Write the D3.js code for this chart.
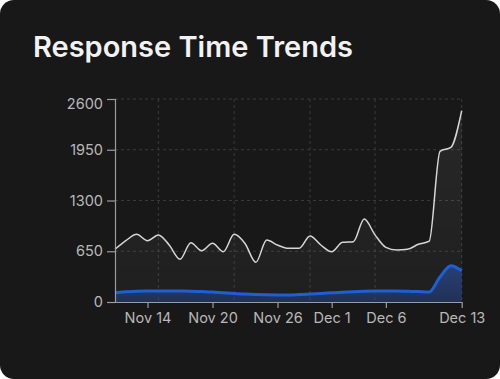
<!DOCTYPE html>
<html>
<head>
<meta charset="utf-8">
<script src="https://cdn.jsdelivr.net/npm/d3@7"></script>
<style>
  html, body { margin: 0; padding: 0; background: #ffffff; }
  body { width: 500px; height: 379px; overflow: hidden; }
  .card { position: absolute; left: 0; top: 0; width: 500px; height: 379px; background: #181818; border-radius: 14px; }
  svg { position: absolute; left: 0; top: 0; }
</style>
</head>
<body>
<div class="card"></div>
<svg id="chart" width="500" height="379"></svg>
<script>
const dates = ["2024-11-11","2024-11-12","2024-11-13","2024-11-14","2024-11-15","2024-11-16","2024-11-17","2024-11-18","2024-11-19","2024-11-20","2024-11-21","2024-11-22","2024-11-23","2024-11-24","2024-11-25","2024-11-26","2024-11-27","2024-11-28","2024-11-29","2024-11-30","2024-12-01","2024-12-02","2024-12-03","2024-12-04","2024-12-05","2024-12-06","2024-12-07","2024-12-08","2024-12-09","2024-12-10","2024-12-11","2024-12-12","2024-12-13"];
const p99Values = [675, 785, 867, 785, 858, 730, 547, 760, 657, 752, 644, 867, 750, 509, 794, 730, 688, 688, 845, 730, 644, 765, 773, 1063, 860, 700, 666, 675, 739, 780, 1930, 1980, 2450];
const avgValues = [120, 130, 138, 141, 142, 142, 141, 138, 133, 128, 118, 108, 102, 96, 92, 90, 91, 96, 102, 110, 117, 124, 132, 138, 141, 141, 140, 137, 133, 128, 320, 465, 400];
const yTicks = [0, 650, 1300, 1950, 2600];
const xTickDates = ["2024-11-14","2024-11-20","2024-11-26","2024-12-01","2024-12-06","2024-12-13"];
const xGridDates = ["2024-11-15","2024-11-22","2024-11-29","2024-12-05","2024-12-13"];
const title = "Response Time Trends";

const parse = d3.timeParse("%Y-%m-%d");
const fmt = d3.timeFormat("%b %-d");
const data = dates.map((d, i) => ({ date: parse(d), p99: p99Values[i], avg: avgValues[i] }));

const svg = d3.select("#chart");
const margin = { left: 115, right: 38.3, top: 99, bottom: 77 };
const W = 500, H = 379;
const x = d3.scaleTime().domain(d3.extent(data, d => d.date)).range([margin.left, W - margin.right]);
const y = d3.scaleLinear().domain([0, 2600]).range([H - margin.bottom, margin.top]);

svg.append("text")
  .attr("x", 33).attr("y", 57)
  .attr("fill", "#f2f2f2")
  .attr("font-family", "Inter, 'Noto Sans', sans-serif")
  .attr("font-weight", 600)
  .attr("font-size", 28.5)
  .attr("textLength", 320)
  .attr("lengthAdjust", "spacingAndGlyphs")
  .text(title);

const defs = svg.append("defs");
const g1 = defs.append("linearGradient").attr("id", "gWhite").attr("x1", 0).attr("y1", 0).attr("x2", 0).attr("y2", 1);
g1.append("stop").attr("offset", "0%").attr("stop-color", "#ffffff").attr("stop-opacity", 0.07);
g1.append("stop").attr("offset", "100%").attr("stop-color", "#ffffff").attr("stop-opacity", 0.03);
const g2 = defs.append("linearGradient").attr("id", "gBlue").attr("x1", 0).attr("y1", 0).attr("x2", 0).attr("y2", 1);
g2.append("stop").attr("offset", "0%").attr("stop-color", "#2a56b0").attr("stop-opacity", 0.6);
g2.append("stop").attr("offset", "100%").attr("stop-color", "#23448c").attr("stop-opacity", 0.5);

// grid
const grid = svg.append("g").attr("stroke", "#3a3a3a").attr("stroke-dasharray", "3,3").attr("stroke-width", 1);
grid.selectAll("line.h").data(yTicks.filter(v => v > 0)).join("line")
  .attr("class", "h")
  .attr("x1", margin.left).attr("x2", W - margin.right)
  .attr("y1", d => y(d)).attr("y2", d => y(d));
grid.selectAll("line.v").data(xGridDates.map(parse)).join("line")
  .attr("class", "v")
  .attr("x1", d => x(d)).attr("x2", d => x(d))
  .attr("y1", margin.top).attr("y2", H - margin.bottom);

const curve = d3.curveMonotoneX;
const areaWhite = d3.area().x(d => x(d.date)).y0(y(0)).y1(d => y(d.p99)).curve(curve);
const lineWhite = d3.line().x(d => x(d.date)).y(d => y(d.p99)).curve(curve);
const areaBlue = d3.area().x(d => x(d.date)).y0(y(0)).y1(d => y(d.avg)).curve(curve);
const lineBlue = d3.line().x(d => x(d.date)).y(d => y(d.avg)).curve(curve);

svg.append("path").datum(data).attr("d", areaWhite).attr("fill", "url(#gWhite)");
svg.append("path").datum(data).attr("d", areaBlue).attr("fill", "url(#gBlue)");
svg.append("path").datum(data).attr("d", lineWhite).attr("fill", "none").attr("stroke", "#d6d6d6").attr("stroke-width", 1.5);
svg.append("path").datum(data).attr("d", lineBlue).attr("fill", "none").attr("stroke", "#1f5fd6").attr("stroke-width", 3);

// axes
const axisColor = "#9c9c9c";
const yAxis = svg.append("g").attr("transform", `translate(${margin.left},0)`)
  .call(d3.axisLeft(y).tickValues(yTicks).tickFormat(d3.format("d")).tickSize(8).tickSizeOuter(8).tickPadding(4));
const xAxis = svg.append("g").attr("transform", `translate(0,${H - margin.bottom})`)
  .call(d3.axisBottom(x).tickValues(xTickDates.map(parse)).tickFormat(fmt).tickSize(6).tickSizeOuter(0).tickPadding(5));
[yAxis, xAxis].forEach(a => {
  a.select(".domain").attr("stroke", axisColor).attr("stroke-width", 1.2);
  a.selectAll(".tick line").attr("stroke", axisColor).attr("stroke-width", 1.2);
  a.selectAll(".tick text").attr("fill", "#b8b8b8").attr("font-size", 14.5)
    .attr("font-family", "Inter, 'Noto Sans', sans-serif");
});
yAxis.selectAll(".tick text").filter(d => d === 2600).attr("dy", "0.65em");
</script>
</body>
</html>
